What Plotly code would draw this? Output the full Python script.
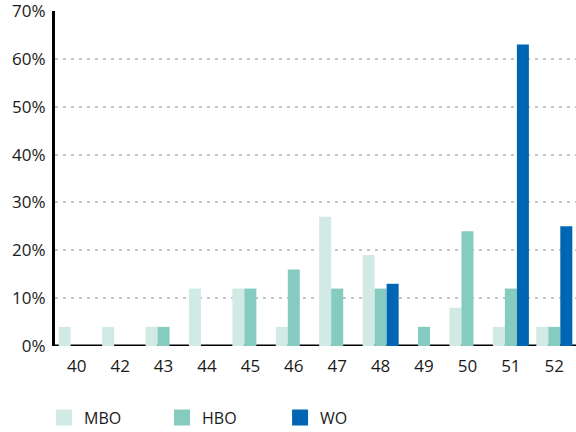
import plotly.graph_objects as go

categories = ["40", "42", "43", "44", "45", "46", "47", "48", "49", "50", "51", "52"]
mbo = [4, 4, 4, 12, 12, 4, 27, 19, 0, 8, 4, 4]
hbo = [0, 0, 4, 0, 12, 16, 12, 12, 4, 24, 12, 4]
wo = [0, 0, 0, 0, 0, 0, 0, 13, 0, 0, 63, 25]
y_ticks = [0, 10, 20, 30, 40, 50, 60, 70]
series_names = ["MBO", "HBO", "WO"]
colors = ["#D1EAE5", "#86CBC0", "#0066B3"]

font_family = "'Open Sans', Lato, sans-serif"

fig = go.Figure()
for name, vals, col in zip(series_names, [mbo, hbo, wo], colors):
    fig.add_bar(x=categories, y=vals, name=name, marker_color=col,
                marker_line_width=0, showlegend=False, legendgroup=name)
# legend entries with larger square swatches
for name, col in zip(series_names, colors):
    fig.add_scatter(x=[None], y=[None], mode="markers", name=name, legendgroup=name,
                    marker=dict(symbol="square", size=17, color=col), showlegend=True)

fig.update_layout(
    width=576, height=432,
    margin=dict(l=55, r=0, t=11, b=86, autoexpand=False),
    paper_bgcolor="white", plot_bgcolor="white",
    barmode="group", bargap=0.17, bargroupgap=0,
    font=dict(family=font_family, size=16, color="#1a1a1a"),
    showlegend=True,
    legend=dict(orientation="h", x=-0.021, xanchor="left", y=-0.163, yanchor="top",
                font=dict(size=16), entrywidth=73, entrywidthmode="pixels",
                traceorder="normal", itemsizing="trace"),
)
fig.update_xaxes(
    type="category", showgrid=False, showline=False, zeroline=False,
    ticks="", tickfont=dict(size=17), range=[-0.5, 11.5], ticklabelstandoff=8,
    automargin=False,
)
fig.update_yaxes(
    range=[0, 70], tickvals=y_ticks, ticktext=[f"{v}%" for v in y_ticks],
    showgrid=True, gridcolor="#C4C4C4", griddash="3px,5px", gridwidth=1.5,
    zeroline=False, showline=True, linecolor="black", linewidth=3,
    ticks="", tickfont=dict(size=17), ticklabelstandoff=3, layer="below traces",
    ticklabeloverflow="allow", automargin=False,
)
# zero baseline drawn beneath the bars
fig.add_shape(type="line", xref="paper", yref="y", x0=0, x1=1, y0=0, y1=0,
              line=dict(color="black", width=3), layer="below")

fig.write_html("out.html", config={"displayModeBar": False},
               post_script="document.body.style.margin='0';")
